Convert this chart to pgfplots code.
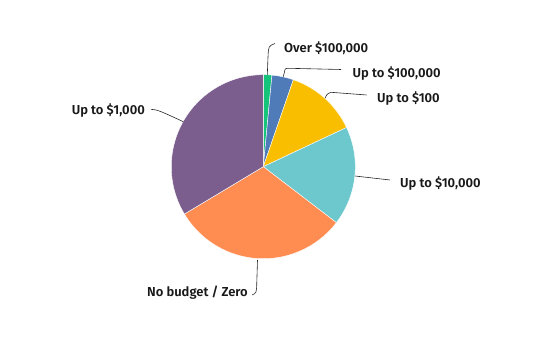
\documentclass[border=0pt]{standalone}
\usepackage{pgfplots}
\pgfplotsset{compat=1.18}
\usepackage{fontspec}
\setmainfont{Fira Sans SemiBold}
\definecolor{cgreen}{HTML}{14C47A}
\definecolor{cblue}{HTML}{4F7BB8}
\definecolor{cyellow}{HTML}{F9BE00}
\definecolor{cteal}{HTML}{6CC8CC}
\definecolor{corange}{HTML}{FF8C50}
\definecolor{cpurple}{HTML}{7B5E8E}
\begin{document}
\begin{tikzpicture}
\begin{axis}[
  x=1pt, y=1pt,
  xmin=0, xmax=535, ymin=0, ymax=345,
  hide axis, clip=false,
]
\pgfplotsextra{
  \path (0,0) rectangle (535,345);
  \gdef\cum{0}
  \foreach \v/\c in {1.5/cgreen, 3.8/cblue, 12.7/cyellow, 17.4/cteal, 31.0/corange, 33.6/cpurple} {
    \pgfmathsetmacro\a{90-3.6*\cum}
    \pgfmathsetmacro\b{90-3.6*(\cum+\v)}
    \fill[\c, draw=white, line width=0.4pt] (263.3,178.3) -- ++(\a:92pt) arc[start angle=\a, end angle=\b, radius=92pt] -- cycle;
    \pgfmathsetmacro\n{\cum+\v}
    \global\let\cum\n
  }
  \begin{scope}[draw=black!85, line width=0.6pt]
  \draw (267.3,270) -- (268,288) .. controls (268.5,299) .. (275,301.5);
  \draw (283.3,268.3) -- (284.5,273) .. controls (285,276.5) .. (289,276.7) -- (341,275.5);
  \draw (325,246.7) .. controls (327,251) .. (331,252.7) -- (366.7,250);
  \draw (355,169) -- (390,165);
  \draw (257.5,85) -- (256.8,63) .. controls (256.5,52) .. (252,50);
  \draw (151,235.7) .. controls (158,235) .. (183.3,223.3);
  \end{scope}
  \begin{scope}[every node/.style={font=\fontsize{13}{15}\selectfont, text=black!90, inner sep=0pt}]
  \node[anchor=west] at (284,297) {Over \$100,000};
  \node[anchor=west] at (352.5,271.7) {Up to \$100,000};
  \node[anchor=west] at (377,246.7) {Up to \$100};
  \node[anchor=west] at (400,161.7) {Up to \$10,000};
  \node[anchor=east] at (248,52) {No budget / Zero};
  \node[anchor=east] at (145,234.3) {Up to \$1,000};
  \end{scope}
}
\end{axis}
\end{tikzpicture}
\end{document}
